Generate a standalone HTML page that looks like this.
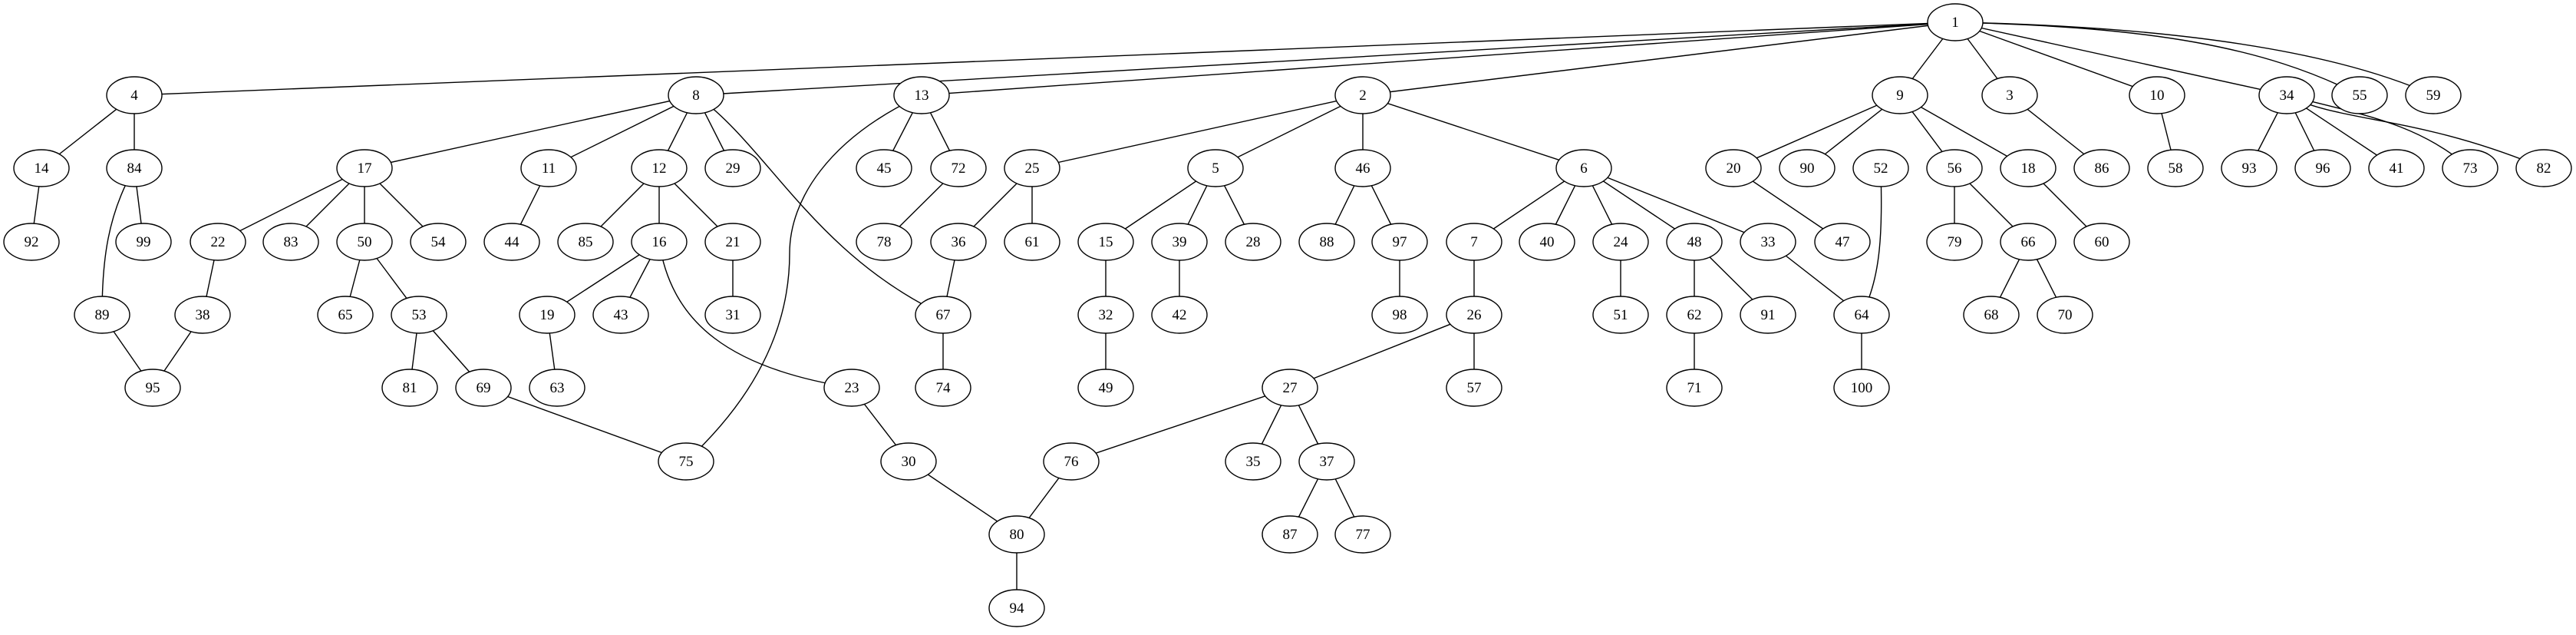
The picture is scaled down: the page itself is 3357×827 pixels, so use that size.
<!DOCTYPE html>
<html><head><meta charset="utf-8"><style>
html,body{margin:0;padding:0;background:#fff;}
svg{display:block}
text{font-family:"Liberation Serif",serif;font-size:19px;text-anchor:middle}
</style></head><body>
<svg id="s" width="3357" height="827" viewBox="0 0 3357 827" xmlns="http://www.w3.org/2000/svg">
<g id="E" stroke="#000" stroke-width="1.4" fill="none"></g>
<g id="N"></g>
</svg>
<script>
var P={1:[2548,29],4:[175,124],8:[907,124],13:[1201,124],2:[1776,124],9:[2476,124],3:[2619,124],10:[2811,124],34:[2980,124],55:[3075,124],59:[3171,124],
14:[54,219],84:[175,219],17:[475,219],11:[715,219],12:[859,219],29:[955,219],45:[1152,219],72:[1249,219],25:[1345,219],5:[1584,219],46:[1776,219],6:[2064,219],
20:[2259,219],90:[2355,219],52:[2451,219],56:[2547,219],18:[2643,219],86:[2739,219],58:[2835,219],93:[2931,219],96:[3027,219],41:[3123,219],73:[3219,219],82:[3315,219],
92:[41,315],99:[187,315],22:[284,315],83:[379,315],50:[475,315],54:[571,315],44:[667,315],85:[763,315],16:[859,315],21:[955,315],78:[1152,315],36:[1249,315],61:[1345,315],
15:[1441,315],39:[1537,315],28:[1633,315],88:[1729,315],97:[1824,315],7:[1921,315],40:[2016,315],24:[2112,315],48:[2208,315],33:[2304,315],47:[2401,315],79:[2547,315],66:[2643,315],60:[2739,315],
89:[133,410],38:[264,410],65:[450,410],53:[546,410],19:[713,410],43:[809,410],31:[955,410],67:[1229,410],32:[1441,410],42:[1537,410],98:[1824,410],26:[1921,410],51:[2112,410],62:[2208,410],91:[2304,410],64:[2426,410],68:[2595,410],70:[2691,410],
95:[199,505],81:[534,505],69:[630,505],63:[726,505],23:[1110,505],74:[1229,505],49:[1441,505],27:[1681,505],57:[1921,505],71:[2208,505],100:[2426,505],
75:[894,601],30:[1184,601],76:[1396,601],35:[1633,601],37:[1729,601],
80:[1325,696],87:[1681,696],77:[1776,696],94:[1325,792]};
var L="1-4 1-8 1-13 1-2 1-9 1-3 1-10 1-34 4-14 4-84 14-92 84-99 89-95 38-95 22-38 8-17 8-11 8-12 8-29 17-22 17-83 17-50 17-54 50-65 50-53 53-81 53-69 69-75 11-44 12-85 12-16 12-21 16-19 16-43 21-31 19-63 13-45 13-72 72-78 2-25 2-5 2-46 2-6 25-36 25-61 36-67 67-74 5-15 5-39 5-28 15-32 32-49 39-42 46-88 46-97 97-98 6-7 6-40 6-24 6-48 6-33 7-26 26-27 26-57 27-76 27-35 27-37 37-87 37-77 76-80 30-80 23-30 80-94 24-51 48-62 48-91 62-71 33-64 64-100 9-20 9-90 9-56 9-18 20-47 56-79 56-66 66-68 66-70 18-60 3-86 10-58 34-93 34-96 34-41".split(" ");
var C=["M175,219 C140,280 133,340 133,410","M907,124 C1000,190 1060,330 1229,410",
"M1201,124 C1080,180 1029,260 1029,330 C1029,450 960,540 894,601","M859,315 C875,420 950,480 1110,505",
"M2451,219 C2453,300 2452,360 2426,410","M2548,29 C2800,35 2950,60 3075,124","M2548,29 C2850,35 3050,70 3171,124",
"M2980,124 C3080,150 3150,160 3219,219","M2980,124 C3050,160 3150,150 3315,219"];
var ns="http://www.w3.org/2000/svg",E=document.getElementById("E"),N=document.getElementById("N");
L.forEach(function(e){var a=P[e.split("-")[0]],b=P[e.split("-")[1]];var l=document.createElementNS(ns,"line");
l.setAttribute("x1",a[0]);l.setAttribute("y1",a[1]);l.setAttribute("x2",b[0]);l.setAttribute("y2",b[1]);E.appendChild(l);});
C.forEach(function(d){var p=document.createElementNS(ns,"path");p.setAttribute("d",d);E.appendChild(p);});
for(var k in P){var q=P[k];var el=document.createElementNS(ns,"ellipse");el.setAttribute("cx",q[0]);el.setAttribute("cy",q[1]);
el.setAttribute("rx",36);el.setAttribute("ry",24);el.setAttribute("fill","#fff");el.setAttribute("stroke","#000");el.setAttribute("stroke-width","1.4");N.appendChild(el);
var t=document.createElementNS(ns,"text");t.setAttribute("x",q[0]);t.setAttribute("y",q[1]+6);t.textContent=k;N.appendChild(t);}
</script>
</body></html>
